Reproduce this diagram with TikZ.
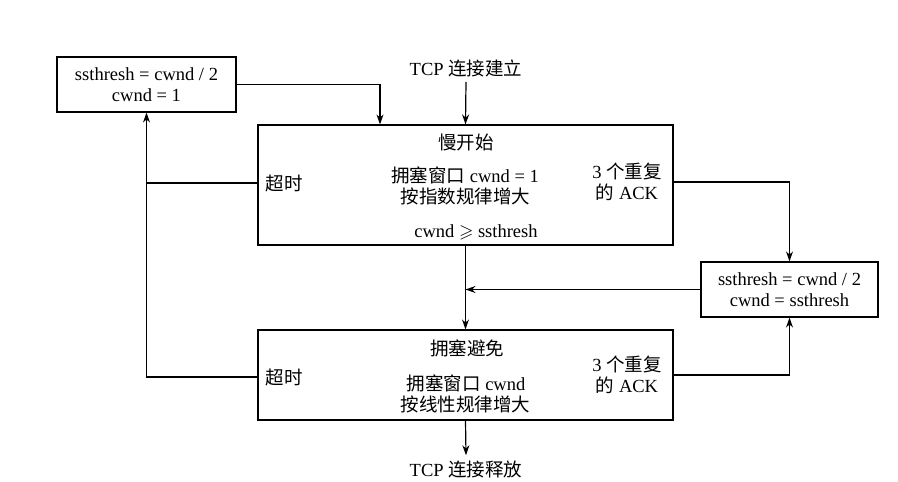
\documentclass[tikz,border=0pt]{standalone}
\usepackage{fontspec}
\usepackage{amssymb}
\setmainfont{Liberation Serif}
\newfontfamily\cjk{Noto Sans CJK SC}
\usetikzlibrary{arrows.meta}
\tikzset{
  statebox/.style={draw, line width=1.2pt, inner sep=0pt},
  label text/.style={inner sep=1pt, align=center},
  arr/.style={line width=1.2pt, -{Stealth[length=10pt,width=7pt]}},
  line/.style={line width=1.2pt}
}
\begin{document}
\begin{tikzpicture}[x=1pt, y=-1pt, font=\fontsize{18.5}{21}\selectfont]
    \useasboundingbox (0,0) rectangle (898,482);
    % boxes
    \node[statebox, minimum width=179pt, minimum height=55pt] (halve) at (146.5,84.5) {};
    \node[statebox, minimum width=415pt, minimum height=120pt] (slow) at (465.5,185) {};
    \node[statebox, minimum width=177pt, minimum height=55pt] (fast) at (789.5,289.5) {};
    \node[statebox, minimum width=415pt, minimum height=90pt] (avoid) at (465.5,375) {};
    % texts
    \node[label text] (halvetext) at (146.5,85) {ssthresh = cwnd / 2\\cwnd = 1};
    \node[label text] (fasttext) at (789.5,290) {ssthresh = cwnd / 2\\cwnd = ssthresh};
    \node[label text] (open) at (466,68) {TCP {\cjk 连接建立}};
    \node[label text] (close) at (466,469) {TCP {\cjk 连接释放}};
    \node[label text] (slowname) at (466,142) {\cjk 慢开始};
    \node[label text] (slowcwnd) at (465,175) {{\cjk 拥塞窗口} cwnd = 1};
    \node[label text] (slowgrow) at (465.5,196) {\cjk 按指数规律增大};
    \node[label text] (slowthr) at (476,232) {cwnd $\geqslant$ ssthresh};
    \node[label text] (slowtimeout) at (284,183) {\cjk 超时};
    \node[label text] (slowack) at (627,182) {3 {\cjk 个重复}\\{\cjk 的} ACK};
    \node[label text] (avoidname) at (467,348) {\cjk 拥塞避免};
    \node[label text] (avoidcwnd) at (466,383) {{\cjk 拥塞窗口} cwnd};
    \node[label text] (avoidgrow) at (465.5,404) {\cjk 按线性规律增大};
    \node[label text] (avoidtimeout) at (284,377) {\cjk 超时};
    \node[label text] (avoidack) at (627,375) {3 {\cjk 个重复}\\{\cjk 的} ACK};
    % connectors
    \draw[arr] ([yshift=-4pt]open.south) -- (slow.north);
    \draw[arr] (halve.east) -| ([xshift=-85.5pt]slow.north);
    \draw[arr] (slow.west |- slowtimeout) -| (halve.south);
    \draw[line] (avoid.west |- avoidtimeout) -| (halve.south |- slowtimeout);
    \draw[arr] (slow.east |- slowack) -| (fast.north);
    \draw[arr] (avoid.east |- avoidack) -| (fast.south);
    \draw[arr] (fast.west) -- (fast.west -| slow.south);
    \draw[arr] (slow.south) -- (avoid.north);
    \draw[arr] (avoid.south) -- ([yshift=4pt]close.north);
\end{tikzpicture}
\end{document}
